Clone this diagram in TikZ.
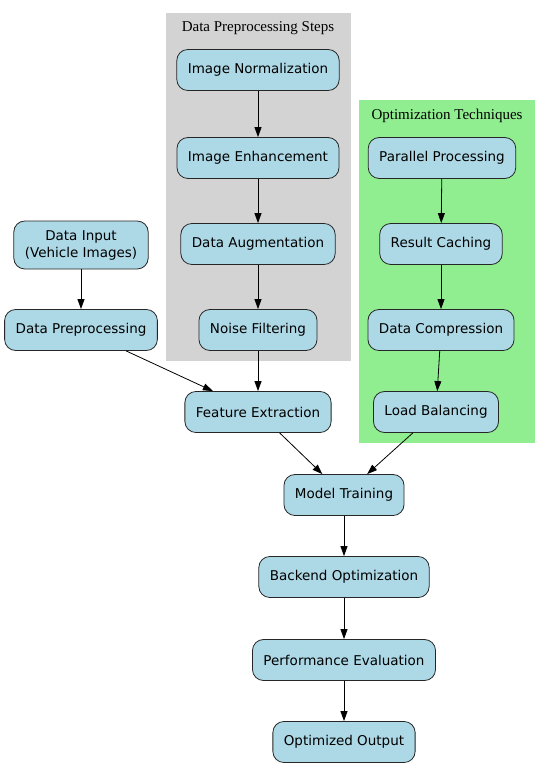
\documentclass[tikz,border=0pt]{standalone}
\usepackage{fontspec}
\setmainfont{Liberation Serif}
\newfontfamily\nodefont{DejaVu Sans}
\usetikzlibrary{positioning, arrows.meta, fit, backgrounds}
\definecolor{stepblue}{RGB}{173,216,230}
\definecolor{clustergray}{RGB}{211,211,211}
\definecolor{clustergreen}{RGB}{144,238,144}

\begin{document}
\begin{tikzpicture}[x=1pt, y=-1pt,
  stage/.style={rectangle, rounded corners=11pt, draw=black!85, fill=stepblue,
                line width=0.8pt, minimum height=41pt, inner xsep=11pt,
                font=\nodefont\fontsize{13.5}{17}\selectfont, align=center},
  lbl/.style={font=\fontsize{15}{17}\selectfont},
  arr/.style={-{Triangle[length=10pt, width=7pt]}, line width=0.8pt, color=black}
]
  \useasboundingbox (0,0) rectangle (548,768);
  % clusters
  \fill[clustergray]  (166,13) rectangle (351,361);
  \fill[clustergreen] (359,100) rectangle (535,443);
  \node[lbl] (prelbl) at (258,28)  {Data Preprocessing Steps};
  \node[lbl] (optlbl) at (447,116) {Optimization Techniques};

  % main path
  \node[stage, minimum height=48pt] (input) at (81,245) {Data Input\\(Vehicle Images)};
  \node[stage] (prep)     at (81,330)  {Data Preprocessing};
  \node[stage] (feature)  at (258,412) {Feature Extraction};
  \node[stage] (training) at (344,495) {Model Training};
  \node[stage] (backend)  at (344,577) {Backend Optimization};
  \node[stage] (perf)     at (344,660) {Performance Evaluation};
  \node[stage] (output)   at (344,742) {Optimized Output};

  % preprocessing steps
  \node[stage] (norm)    at (258,70)  {Image Normalization};
  \node[stage] (enhance) at (258,158) {Image Enhancement};
  \node[stage] (augment) at (258,244) {Data Augmentation};
  \node[stage] (noise)   at (258,330) {Noise Filtering};

  % optimization techniques
  \node[stage] (parallel) at (442,158) {Parallel Processing};
  \node[stage] (caching)  at (441,244) {Result Caching};
  \node[stage] (compress) at (441,330) {Data Compression};
  \node[stage] (balance)  at (436,412) {Load Balancing};

  \draw[arr] (input)   -- (prep);
  \draw[arr] (prep)    -- (feature);
  \draw[arr] (norm)    -- (enhance);
  \draw[arr] (enhance) -- (augment);
  \draw[arr] (augment) -- (noise);
  \draw[arr] (noise)   -- (feature);
  \draw[arr] (parallel) -- (caching);
  \draw[arr] (caching)  -- (compress);
  \draw[arr] (compress) -- (balance);
  \draw[arr] (feature)  -- (training);
  \draw[arr] (balance)  -- (training);
  \draw[arr] (training) -- (backend);
  \draw[arr] (backend)  -- (perf);
  \draw[arr] (perf)     -- (output);
\end{tikzpicture}
\end{document}
